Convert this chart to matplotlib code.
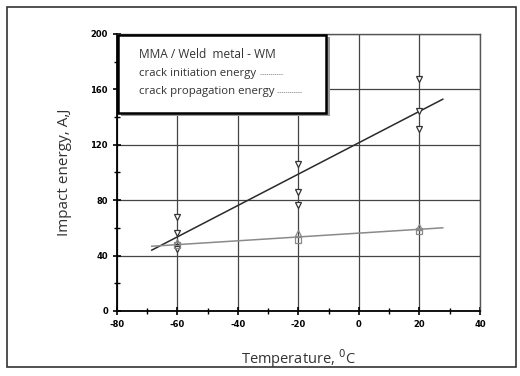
import matplotlib.pyplot as plt
from matplotlib.patches import Rectangle
from matplotlib.lines import Line2D
from matplotlib.ticker import MultipleLocator

# data
temps = [-60, -20, 20]
init_pts = [[68, 56.5, 46, 45], [106, 86, 76.5], [167.5, 144.5, 131]]
prop_tri = [50, 56, 60.5]
prop_sq = [47.5, 51.5, 58]

fit_x = [-68.5, 27.7]
init_fit = [43.9, 152.8]
prop_fit = [46.7, 60.0]

xticks = [-80, -60, -40, -20, 0, 20, 40]
yticks = [0, 40, 80, 120, 160, 200]

plt.rcParams['font.family'] = ['Open Sans', 'DejaVu Sans']

fig = plt.figure(figsize=(5.2, 3.76), dpi=100)
fig.patches.append(Rectangle((0.0135, 0.024), 0.978, 0.957, transform=fig.transFigure,
                             fill=False, ec='#333333', lw=1.2))
ax = fig.add_axes([0.225, 0.173, 0.698, 0.737])

# fitted lines
ax.plot(fit_x, init_fit, color='#2a2a2a', lw=1.1, zorder=3)
ax.plot(fit_x, prop_fit, color='#8a8a8a', lw=1.1, zorder=3)

# measured points
for t, vals in zip(temps, init_pts):
    ax.plot([t] * len(vals), vals, ls='none', marker='v', ms=5, mfc='white',
            mec='#333333', mew=0.9, zorder=4)
ax.plot(temps, prop_tri, ls='none', marker='^', ms=5, mfc='none', mec='#888888', mew=0.9, zorder=4)
ax.plot(temps, prop_sq, ls='none', marker='s', ms=4.5, mfc='none', mec='#888888', mew=0.9, zorder=4)

ax.set_xlim(-80, 40)
ax.set_ylim(0, 200)
ax.set_xticks(xticks)
ax.set_yticks(yticks)
ax.xaxis.set_minor_locator(MultipleLocator(10))
ax.yaxis.set_minor_locator(MultipleLocator(20))
ax.set_xticklabels([str(v) for v in xticks], fontsize=6, fontweight='bold', family='DejaVu Sans')
ax.set_yticklabels([str(v) for v in yticks], fontsize=6, fontweight='bold', family='DejaVu Sans')
ax.tick_params(which='major', direction='inout', length=6, width=1.2, color='black')
ax.tick_params(which='minor', direction='inout', length=4, width=1.0, color='black')
ax.grid(True, which='major', color='#444444', lw=0.9)
ax.set_axisbelow(True)

for s in ['top', 'right']:
    ax.spines[s].set_color('#555555')
    ax.spines[s].set_linewidth(1.0)
for s in ['left', 'bottom']:
    ax.spines[s].set_color('black')
    ax.spines[s].set_linewidth(1.3)

ax.set_xlabel('Temperature, $^0$C', fontsize=10.5, color='#333333', labelpad=13)
ax.set_ylabel('Impact energy, A,J', fontsize=11, color='#333333', labelpad=13)

# legend box, drawn by hand
ax.add_patch(Rectangle((0.012, 0.705), 0.575, 0.285, transform=ax.transAxes,
                       fc='#999999', ec='none', zorder=5, clip_on=False))
ax.add_patch(Rectangle((0.004, 0.715), 0.572, 0.281, transform=ax.transAxes,
                       fc='white', ec='black', lw=1.8, zorder=6, clip_on=False))
lx = 0.06
ax.text(lx, 0.925, 'MMA / Weld  metal - WM', transform=ax.transAxes, fontsize=8.6,
        color='#333333', va='center', zorder=7)
ax.text(lx, 0.858, 'crack initiation energy', transform=ax.transAxes, fontsize=8.2,
        color='#333333', va='center', zorder=7)
ax.text(lx, 0.792, 'crack propagation energy', transform=ax.transAxes, fontsize=8.2,
        color='#333333', va='center', zorder=7)
ax.add_line(Line2D([0.394, 0.457], [0.855, 0.855], transform=ax.transAxes, color='#888888',
                   lw=0.6, ls=(0, (1.5, 1)), zorder=7))
ax.add_line(Line2D([0.441, 0.510], [0.789, 0.789], transform=ax.transAxes, color='#888888',
                   lw=0.6, ls=(0, (1.5, 1)), zorder=7))

fig.savefig('out.png', dpi=100)
